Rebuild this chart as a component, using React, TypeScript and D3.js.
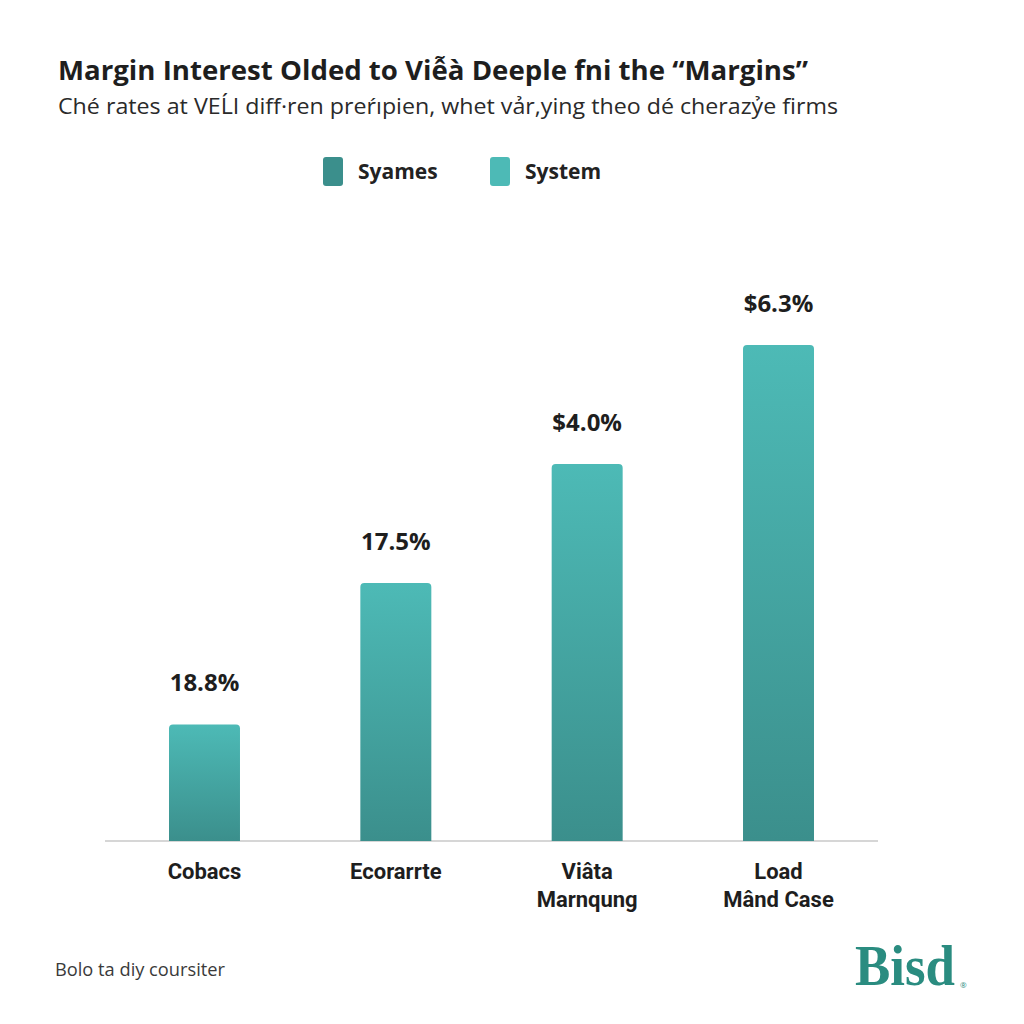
import React from "react";
import * as d3 from "d3";

const title = "Margin Interest Olded to Viễà Deeple fni the “Margins”";
const subtitle = "Ché rates at VEĹI diff·ren preŕıpien, whet vảr,ying theo dé cherazỷe firms";
const categories = ["Cobacs", "Ecorarrte", "Viâta\nMarnqung", "Load\nMând Case"];
const values = [2.35, 5.2, 7.6, 10.0];
const valueLabels = ["18.8%", "17.5%", "$4.0%", "$6.3%"];
const legendNames = ["Syames", "System"];
const legendColors = ["#3b8f8c", "#4dbab6"];
const footer = "Bolo ta diy coursiter";
const logo = "Bisd";

export default function App() {
  const width = 1024;
  const height = 1024;
  const baseY = 841;

  const x = d3
    .scaleBand<string>()
    .domain(categories)
    .range([111.6, 871.4])
    .paddingInner(0.629)
    .paddingOuter(0.3);

  const y = d3.scaleLinear().domain([0, 10]).range([baseY, 345]);

  const font = "'Open Sans', 'Noto Sans', sans-serif";
  const labelFont = "Roboto, 'Liberation Sans', sans-serif";

  return (
    <svg
      width={width}
      height={height}
      style={{ position: "absolute", left: 0, top: 0, background: "#fff" }}
    >
      <defs>
        <linearGradient id="barGrad" x1="0" y1="0" x2="0" y2="1">
          <stop offset="0%" stopColor="#4dbab6" />
          <stop offset="100%" stopColor="#3b8f8c" />
        </linearGradient>
      </defs>
      <rect width={width} height={height} fill="#fff" />

      <text x={58} y={80} fontFamily={font} fontWeight={700} fontSize={26.5} fill="#1e1e1e"
        textLength={750} lengthAdjust="spacingAndGlyphs">
        {title}
      </text>
      <text x={58} y={114} fontFamily={font} fontSize={22} fill="#2a2a2a"
        textLength={780} lengthAdjust="spacingAndGlyphs">
        {subtitle}
      </text>

      {/* legend */}
      {legendNames.map((n, i) => {
        const lx = [323, 490][i];
        return (
          <g key={n}>
            <rect x={lx} y={157} width={20} height={29} rx={3} fill={legendColors[i]} />
            <text x={lx + 35} y={179} fontFamily={font} fontWeight={700} fontSize={21} fill="#222">
              {n}
            </text>
          </g>
        );
      })}

      <line x1={105} x2={878} y1={baseY} y2={baseY} stroke="#c8c8c8" strokeWidth={1.5} />

      {categories.map((c, i) => {
        const bx = x(c)!;
        const top = y(values[i]);
        const bw = x.bandwidth();
        const r = 4;
        const d = `M${bx},${baseY} V${top + r} Q${bx},${top} ${bx + r},${top} H${bx + bw - r} Q${bx + bw},${top} ${bx + bw},${top + r} V${baseY} Z`;
        const lines = c.split("\n");
        return (
          <g key={c}>
            <path d={d} fill="url(#barGrad)" />
            <text x={bx + bw / 2} y={top - 33} textAnchor="middle" fontFamily={font}
              fontWeight={700} fontSize={24} fill="#1e1e1e">
              {valueLabels[i]}
            </text>
            {lines.map((l, j) => (
              <text key={j} x={bx + bw / 2} y={879 + j * 28} textAnchor="middle"
                fontFamily={labelFont} fontWeight={700} fontSize={22} fill="#1e1e1e">
                {l}
              </text>
            ))}
          </g>
        );
      })}

      <text x={55} y={976} fontFamily={font} fontSize={18} fill="#3a3a3a"
        textLength={170} lengthAdjust="spacingAndGlyphs">
        {footer}
      </text>
      <text x={855} y={985} fontFamily="'Liberation Serif', 'DejaVu Serif', serif" fontWeight={700}
        fontSize={56} fill="#2a8c80" textLength={100} lengthAdjust="spacingAndGlyphs">
        {logo}
      </text>
      <text x={960} y={988} fontFamily={font} fontSize={8} fill="#2a8c80">®</text>
    </svg>
  );
}
